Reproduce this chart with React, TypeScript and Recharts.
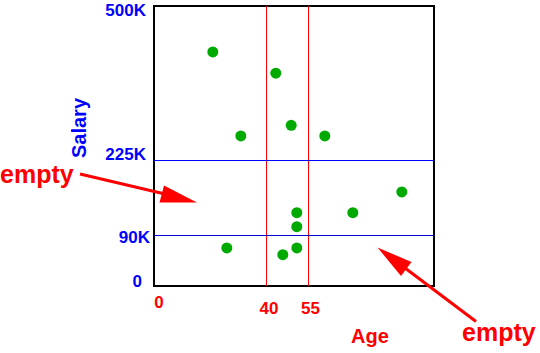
import {
  ReferenceArea,
  ReferenceLine,
  Scatter,
  ScatterChart,
  XAxis,
  YAxis,
} from 'recharts'

// age (years) vs salary (thousands)
const ages = [21, 31, 43.5, 49, 61, 26, 88.5, 51, 51, 71, 51, 46]
const salaries = [418, 268, 380, 287, 268, 68, 168, 131, 106, 131, 68, 56]

const xTicks = [0, 40, 55]
const yTicks = [0, 90, 225, 500]
const yTickLabels = ['0', '90K', '225K', '500K']

const points = ages.map((age, i) => ({ age, salary: salaries[i] }))

const FONT = '"Liberation Sans", Arial, Helvetica, sans-serif'
const RED = '#ff0000'
const BLUE = '#0000ff'

// small nudges so the labels sit where the original put them
const yNudge: Record<number, { dx: number; dy: number }> = {
  0: { dx: -4, dy: -5 },
  90: { dx: 4, dy: 2 },
  225: { dx: 0, dy: -6 },
  500: { dx: 0, dy: 1 },
}
const xNudge: Record<number, { dx: number; dy: number }> = {
  0: { dx: 5, dy: 8 },
  40: { dx: 3, dy: 14 },
  55: { dx: 2.5, dy: 14 },
}

function YTick({ x, y, payload }: any) {
  const n = yNudge[payload.value] ?? { dx: 0, dy: 0 }
  const label = yTickLabels[yTicks.indexOf(payload.value)]
  return (
    <text
      x={x + n.dx}
      y={y + n.dy}
      textAnchor="end"
      dominantBaseline="central"
      fill={BLUE}
      fontFamily={FONT}
      fontWeight="bold"
      fontSize={17}
    >
      {label}
    </text>
  )
}

function XTick({ x, y, payload }: any) {
  const n = xNudge[payload.value] ?? { dx: 0, dy: 0 }
  return (
    <text
      x={x + n.dx}
      y={y + n.dy}
      textAnchor="middle"
      dominantBaseline="central"
      fill={RED}
      fontFamily={FONT}
      fontWeight="bold"
      fontSize={17}
    >
      {payload.value}
    </text>
  )
}

function Dot({ cx, cy }: any) {
  return <circle cx={cx} cy={cy} r={5.5} fill="#00aa00" />
}

function Annotations() {
  return (
    <svg
      width={540}
      height={353}
      style={{ position: 'absolute', left: 0, top: 0, pointerEvents: 'none' }}
    >
      <text
        x={79}
        y={128}
        transform="rotate(-90 79 128)"
        textAnchor="middle"
        dominantBaseline="central"
        fill={BLUE}
        fontFamily={FONT}
        fontWeight="bold"
        fontSize={20}
      >
        Salary
      </text>
      <text
        x={370}
        y={336}
        textAnchor="middle"
        dominantBaseline="central"
        fill={RED}
        fontFamily={FONT}
        fontWeight="bold"
        fontSize={20}
      >
        Age
      </text>
      <text x={0} y={183} fill={RED} fontFamily={FONT} fontWeight="bold" fontSize={25}>
        empty
      </text>
      <text x={462} y={341} fill={RED} fontFamily={FONT} fontWeight="bold" fontSize={25}>
        empty
      </text>
      <line x1={80} y1={174} x2={165} y2={194} stroke={RED} strokeWidth={3} />
      <polygon points="164,185.5 159.5,202.5 197,202.5" fill={RED} />
      <line x1={476} y1={321.5} x2={405} y2={268} stroke={RED} strokeWidth={3} />
      <polygon points="411.5,262 401,276 377.5,247.5" fill={RED} />
    </svg>
  )
}

export default function App() {
  return (
    <div
      style={{ position: 'absolute', left: 0, top: 0, width: 540, height: 353, background: '#fff' }}
    >
      <ScatterChart width={540} height={353} margin={{ top: 6, right: 106, bottom: 0, left: 0 }}>
        <XAxis
          type="number"
          dataKey="age"
          domain={[0, 100]}
          ticks={xTicks}
          tick={<XTick />}
          axisLine={false}
          tickLine={false}
          height={67}
        />
        <YAxis
          type="number"
          dataKey="salary"
          domain={[0, 500]}
          ticks={yTicks}
          tick={<YTick />}
          axisLine={false}
          tickLine={false}
          width={154}
        />
        <ReferenceLine x={40} stroke={RED} strokeWidth={1} shapeRendering="crispEdges" />
        <ReferenceLine x={55} stroke={RED} strokeWidth={1} shapeRendering="crispEdges" />
        <ReferenceLine y={225} stroke={BLUE} strokeWidth={1} shapeRendering="crispEdges" />
        <ReferenceLine y={90} stroke="#0000cc" strokeWidth={1} shapeRendering="crispEdges" />
        <ReferenceArea
          x1={0}
          x2={100}
          y1={0}
          y2={500}
          fill="none"
          stroke="#000"
          strokeWidth={1.5}
          shapeRendering="crispEdges"
        />
        <Scatter data={points} shape={<Dot />} isAnimationActive={false} />
      </ScatterChart>
      <Annotations />
    </div>
  )
}
